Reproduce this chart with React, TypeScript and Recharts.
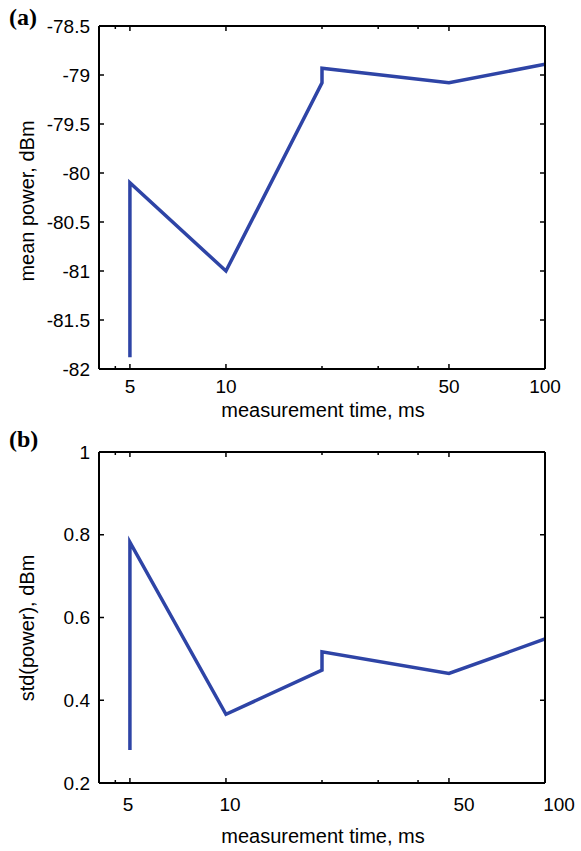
import React from 'react';
import { LineChart, Line, XAxis, YAxis } from 'recharts';

// measurement time (ms) for each sample, shared by both panels
const times = [5, 5, 10, 20, 20, 50, 100];
const meanPower = [-81.88, -80.1, -81.0, -79.08, -78.93, -79.08, -78.89];
const stdPower = [0.28, 0.782, 0.366, 0.473, 0.517, 0.465, 0.548];

const xTicks = [4.5, 5, 10, 20, 30, 40, 50, 100];
const xLabeled = [5, 10, 50, 100];
const meanTicks = [-82, -81.5, -81, -80.5, -80, -79.5, -79, -78.5];
const stdTicks = [0.2, 0.4, 0.6, 0.8, 1];

const meanData = times.map((t, i) => ({ t, v: meanPower[i] }));
const stdData = times.map((t, i) => ({ t, v: stdPower[i] }));

const FONT = '"Liberation Sans", Arial, Helvetica, sans-serif';
const LINE = '#2E44A6';
const AX = { stroke: '#000', strokeWidth: 2 };

const makeBottomTick = (dxMap: Record<number, number>, dy: number) => (props: any) => {
  const { x, y, payload } = props;
  const v = payload.value;
  const major = xLabeled.includes(v);
  return (
    <g>
      <line x1={x} x2={x} y1={y} y2={y - (major ? 5 : 3)} stroke="#000" strokeWidth={1.5} />
      {major && (
        <text x={x + (dxMap[v] || 0)} y={y + dy} textAnchor="middle" dominantBaseline="central"
          fontFamily={FONT} fontSize={19} fill="#000">{v}</text>
      )}
    </g>
  );
};

const TopTick = (props: any) => {
  const { x, y, payload } = props;
  const major = xLabeled.includes(payload.value);
  return <line x1={x} x2={x} y1={y} y2={y + (major ? 5 : 3)} stroke="#000" strokeWidth={1.5} />;
};

const LeftTick = (props: any) => {
  const { x, y, payload } = props;
  return (
    <g>
      <line x1={x} x2={x + 5} y1={y} y2={y} stroke="#000" strokeWidth={1.5} />
      <text x={x - 9} y={y} textAnchor="end" dominantBaseline="central"
        fontFamily={FONT} fontSize={19} fill="#000">{String(payload.value)}</text>
    </g>
  );
};

const RightTick = (props: any) => {
  const { x, y } = props;
  return <line x1={x} x2={x - 5} y1={y} y2={y} stroke="#000" strokeWidth={1.5} />;
};

interface PanelProps {
  data: { t: number; v: number }[];
  yTicks: number[];
  height: number;
  margin: { top: number; right: number; bottom: number; left: number };
  dxMap: Record<number, number>;
  labelDy: number;
}

// axes are 1px thick so recharts still draws them; margins are reduced by 1 to compensate
const Panel: React.FC<PanelProps> = ({ data, yTicks, height, margin, dxMap, labelDy }) => {
  const yDomain = [yTicks[0], yTicks[yTicks.length - 1]];
  const m = { top: margin.top - 1, right: margin.right - 1, bottom: margin.bottom - 1, left: margin.left - 1 };
  return (
    <LineChart width={581} height={height} data={data} margin={m}>
      <XAxis xAxisId="b" dataKey="t" type="number" scale="log" domain={[4, 100]} allowDataOverflow
        ticks={xTicks} interval={0} height={1} tickSize={0} tickMargin={0} tickLine={false}
        axisLine={AX} tick={makeBottomTick(dxMap, labelDy)} />
      <XAxis xAxisId="t" orientation="top" dataKey="t" type="number" scale="log" domain={[4, 100]} allowDataOverflow
        ticks={xTicks} interval={0} height={1} tickSize={0} tickMargin={0} tickLine={false}
        axisLine={AX} tick={TopTick} />
      <YAxis yAxisId="l" type="number" domain={yDomain} allowDataOverflow ticks={yTicks} interval={0}
        width={1} tickSize={0} tickMargin={0} tickLine={false} axisLine={AX} tick={LeftTick} />
      <YAxis yAxisId="r" orientation="right" type="number" domain={yDomain} allowDataOverflow ticks={yTicks}
        interval={0} width={1} tickSize={0} tickMargin={0} tickLine={false} axisLine={AX} tick={RightTick} />
      <Line xAxisId="b" yAxisId="l" type="linear" dataKey="v" stroke={LINE} strokeWidth={3.5}
        dot={false} isAnimationActive={false} strokeLinejoin="miter" />
    </LineChart>
  );
};

const txt: React.CSSProperties = { position: 'absolute', fontFamily: FONT, fontSize: 20, color: '#000', whiteSpace: 'nowrap' };
const tag: React.CSSProperties = { position: 'absolute', fontFamily: '"Liberation Serif", "Times New Roman", serif', fontWeight: 'bold', fontSize: 24, color: '#000' };

export default function App() {
  return (
    <div style={{ position: 'absolute', left: 0, top: 0, width: 581, height: 851, background: '#fff', overflow: 'hidden' }}>
      <div style={{ position: 'absolute', left: 0, top: 0 }}>
        <Panel data={meanData} yTicks={meanTicks} height={420}
          margin={{ top: 26, right: 36, bottom: 51, left: 99 }} dxMap={{}} labelDy={17} />
      </div>
      <div style={{ position: 'absolute', left: 0, top: 420 }}>
        <Panel data={stdData} yTicks={stdTicks} height={431}
          margin={{ top: 32, right: 36, bottom: 68, left: 99 }} dxMap={{ 5: -2, 10: 4, 50: 15, 100: 14 }} labelDy={21} />
      </div>

      <div style={{ ...tag, left: 9, top: 4 }}>(a)</div>
      <div style={{ ...tag, left: 9, top: 426 }}>(b)</div>

      <div style={{ ...txt, left: 323, top: 410, transform: 'translate(-50%, -50%)' }}>measurement time, ms</div>
      <div style={{ ...txt, left: 323, top: 836, transform: 'translate(-50%, -50%)' }}>measurement time, ms</div>

      <div style={{ ...txt, left: 27, top: 201, transform: 'translate(-50%, -50%) rotate(-90deg)' }}>mean power, dBm</div>
      <div style={{ ...txt, left: 27, top: 628, transform: 'translate(-50%, -50%) rotate(-90deg)' }}>std(power), dBm</div>
    </div>
  );
}
